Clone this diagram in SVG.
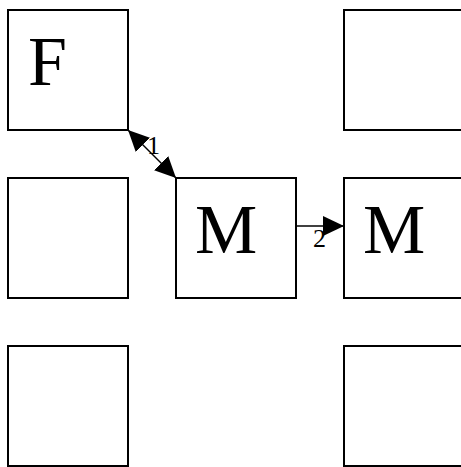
<svg xmlns="http://www.w3.org/2000/svg" width="461" height="467" viewBox="0 0 461 467">
<style>
.box{fill:#fff;stroke:#000;stroke-width:2}
.big{font-family:"Liberation Serif","Times New Roman",serif;font-size:70px;fill:#000}
.lbl{font-family:"Liberation Serif","Times New Roman",serif;font-size:26px;fill:#000}
.edge{stroke:#000;stroke-width:1.5;fill:none}
</style>
<defs>
<marker id="ah" viewBox="0 0 21 20" refX="21" refY="10" markerWidth="21" markerHeight="20" markerUnits="userSpaceOnUse" orient="auto-start-reverse">
<path d="M0,0 L21,10 L0,20 z" fill="#000"/>
</marker>
</defs>
<rect width="461" height="467" fill="#fff"/>
<g id="n00"><rect class="box" x="8" y="10" width="120" height="120"/><text class="big" x="28" y="85">F</text></g>
<g id="n02"><rect class="box" x="344" y="10" width="120" height="120"/></g>
<g id="n10"><rect class="box" x="8" y="178" width="120" height="120"/></g>
<g id="n11"><rect class="box" x="176" y="178" width="120" height="120"/><text class="big" x="195" y="253">M</text></g>
<g id="n12"><rect class="box" x="344" y="178" width="120" height="120"/><text class="big" x="363" y="253">M</text></g>
<g id="n20"><rect class="box" x="8" y="346" width="120" height="120"/></g>
<g id="n22"><rect class="box" x="344" y="346" width="120" height="120"/></g>
<g id="connectors">
<line class="edge" x1="128" y1="130" x2="176" y2="178" marker-start="url(#ah)" marker-end="url(#ah)"/>
<text class="lbl" x="147" y="154">1</text>
<line class="edge" x1="296" y1="226" x2="344" y2="226" marker-end="url(#ah)"/>
<text class="lbl" x="313" y="247">2</text>
</g>
</svg>
